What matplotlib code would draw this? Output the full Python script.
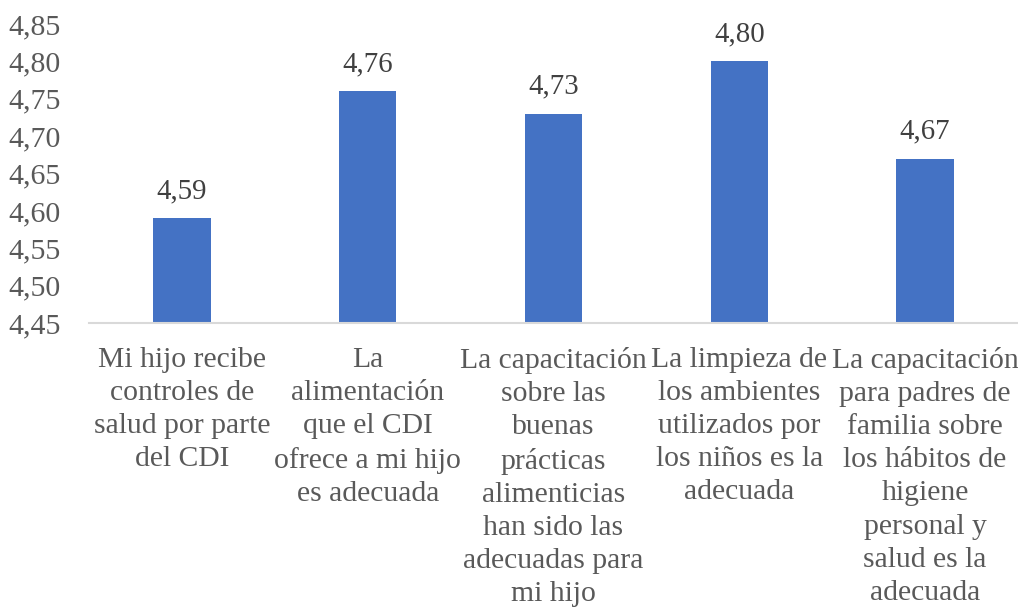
import matplotlib
matplotlib.use("Agg")
import matplotlib.pyplot as plt
from matplotlib.ticker import FuncFormatter, MultipleLocator

categories = [
    "Mi hijo recibe\ncontroles de\nsalud por parte\ndel CDI",
    "La\nalimentación\nque el CDI\nofrece a mi hijo\nes adecuada",
    "La capacitación\nsobre las\nbuenas\nprácticas\nalimenticias\nhan sido las\nadecuadas para\nmi hijo",
    "La limpieza de\nlos ambientes\nutilizados por\nlos niños es la\nadecuada",
    "La capacitación\npara padres de\nfamilia sobre\nlos hábitos de\nhigiene\npersonal y\nsalud es la\nadecuada",
]
values = [4.59, 4.76, 4.73, 4.80, 4.67]

plt.rcParams["font.family"] = ["Liberation Serif", "DejaVu Serif"]

fig = plt.figure(figsize=(10.18, 6.07), dpi=100)
ax = fig.add_axes([89 / 1018, 1 - 323 / 607, 1 - 89 / 1018, (323 - 24) / 607])

x = range(len(values))
ax.bar(x, values, width=0.31, color="#4472C4")
ax.set_ylim(4.45, 4.85)
ax.set_xlim(-0.5, len(values) - 0.5)
ax.yaxis.set_major_locator(MultipleLocator(0.05))
ax.yaxis.set_major_formatter(FuncFormatter(lambda v, p: f"{v:.2f}".replace(".", ",")))

for xi, v in zip(x, values):
    ax.annotate(f"{v:.2f}".replace(".", ","), (xi, v), xytext=(0, 10),
                textcoords="offset points", ha="center", va="bottom",
                fontsize=20.8, color="#404040")

ax.set_xticks(list(x))
ax.set_xticklabels(categories, fontsize=21.3, color="#595959", linespacing=1.36)
ax.tick_params(axis="x", length=0, pad=17)
ax.tick_params(axis="y", length=0, pad=58, labelsize=21.5, labelcolor="#595959")
for lbl in ax.get_yticklabels():
    lbl.set_horizontalalignment("left")

for side in ("top", "right", "left"):
    ax.spines[side].set_visible(False)
ax.spines["bottom"].set_color("#D9D9D9")
ax.spines["bottom"].set_linewidth(1.5)

fig.savefig("out.png", dpi=100)
